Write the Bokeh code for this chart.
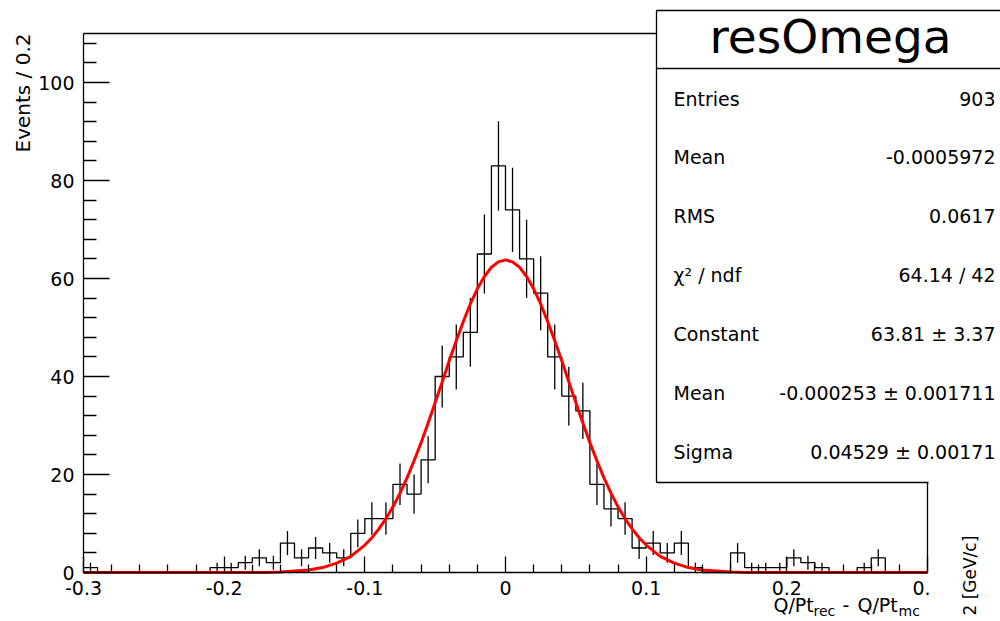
import numpy as np
from bokeh.plotting import figure
from bokeh.models import Range1d, FixedTicker, Label, LinearAxis
from bokeh.embed import file_html
from bokeh.resources import INLINE

# ---------------- data ----------------
bin_low = -0.30
bin_width = 0.01
counts = [1, 0, 0, 0, 0, 0, 0, 0, 0, 1,
          1, 2, 3, 2, 6, 3, 5, 4, 3, 8,
          11, 11, 18, 16, 23, 40, 44, 49, 65, 83,
          74, 64, 57, 44, 36, 33, 18, 13, 11, 5,
          6, 4, 6, 1, 0, 0, 4, 1, 1, 1,
          3, 2, 1, 0, 0, 1, 3, 0, 0, 0]

fit_x = [-0.30, -0.17, -0.16, -0.15, -0.14, -0.13, -0.12, -0.11, -0.10, -0.095,
         -0.09, -0.085, -0.08, -0.075, -0.07, -0.065, -0.06, -0.055, -0.05, -0.045,
         -0.04, -0.035, -0.03, -0.025, -0.02, -0.015, -0.01, -0.005, 0.0,
         0.005, 0.01, 0.015, 0.02, 0.025, 0.03, 0.035, 0.04, 0.045, 0.05,
         0.055, 0.06, 0.065, 0.07, 0.075, 0.08, 0.085, 0.09, 0.095, 0.10,
         0.11, 0.12, 0.13, 0.14, 0.15, 0.16, 0.17, 0.30]
fit_y = [0.0, 0.0, 0.1, 0.3, 0.5, 1.0, 1.9, 3.3, 5.6, 7.1,
         8.9, 11.0, 13.4, 16.2, 19.3, 22.8, 26.5, 30.5, 34.7, 38.9,
         43.2, 47.3, 51.2, 54.8, 57.9, 60.4, 62.3, 63.4, 63.8,
         63.4, 62.3, 60.4, 57.9, 54.8, 51.2, 47.3, 43.2, 38.9, 34.7,
         30.5, 26.5, 22.8, 19.3, 16.2, 13.4, 11.0, 8.9, 7.1, 5.6,
         3.3, 1.9, 1.0, 0.5, 0.3, 0.1, 0.0, 0.0]

x_ticks = [-0.3, -0.2, -0.1, 0.0, 0.1, 0.2, 0.3]
x_tick_labels = ["-0.3", "-0.2", "-0.1", "0", "0.1", "0.2", "0.\u00a0\u00a0"]
x_minor = [-0.28, -0.26, -0.24, -0.22, -0.18, -0.16, -0.14, -0.12, -0.08, -0.06,
           -0.04, -0.02, 0.02, 0.04, 0.06, 0.08, 0.12, 0.14, 0.16, 0.18,
           0.22, 0.24, 0.26, 0.28]
y_ticks = [0, 20, 40, 60, 80, 100]
y_minor = [4, 8, 12, 16, 24, 28, 32, 36, 44, 48, 52, 56, 64, 68, 72, 76,
           84, 88, 92, 96, 104, 108]

stat_names = ["Entries", "Mean", "RMS", "\u03c7\u00b2 / ndf", "Constant", "Mean", "Sigma"]
stat_values = ["903", "-0.0005972", "0.0617", "64.14 / 42", "63.81 \u00b1 3.37",
               "-0.000253 \u00b1 0.001711", "0.04529 \u00b1 0.00171"]
title_text = "resOmega"
y_title = "Events / 0.2"

# ---------------- layout constants ----------------
XMIN, XMAX, YMAX = -0.3, 0.3, 110.0
FL, FB = 83, 572           # ROOT frame left / bottom in canvas px
XS, YS = 1406.67, 4.9       # px per unit
W, H = 1000, 621
FONT = "DejaVu Sans"


def dx(px):
    return XMIN + (px - FL) / XS


def dy(py):
    return (FB - py) / YS


p = figure(width=W, height=H, output_backend="svg", toolbar_location=None,
           x_range=Range1d(dx(0), dx(W)), y_range=Range1d(dy(H), dy(0)),
           x_axis_location=None, y_axis_location=None,
           min_border_left=0, min_border_right=0, min_border_top=0,
           min_border_bottom=0, background_fill_color="white",
           border_fill_color="white", outline_line_color=None)
for g in p.grid:
    g.visible = False

# axes (library axes, pinned to the ROOT frame edges)
xa = LinearAxis(fixed_location=0, bounds=(XMIN, XMAX),
                ticker=FixedTicker(ticks=x_ticks, minor_ticks=x_minor))
xa.major_label_overrides = {t: l for t, l in zip(x_ticks, x_tick_labels)}
ya = LinearAxis(fixed_location=XMIN, bounds=(0, YMAX),
                ticker=FixedTicker(ticks=y_ticks, minor_ticks=y_minor))
for ax in (xa, ya):
    ax.axis_line_color = "black"
    ax.axis_line_width = 1.3
    ax.major_tick_line_color = "black"
    ax.minor_tick_line_color = "black"
    ax.major_tick_line_width = 1.3
    ax.minor_tick_line_width = 1.3
    ax.major_tick_out = 0
    ax.minor_tick_out = 0
    ax.major_label_text_font = FONT
    ax.major_label_text_font_size = "19px"
    ax.major_label_text_color = "black"
xa.major_tick_in = 16
xa.minor_tick_in = 8
xa.major_label_standoff = 4
ya.major_tick_in = 26
ya.minor_tick_in = 13
ya.major_label_standoff = 9

# frame top / right
p.segment(x0=[XMIN, XMAX], y0=[YMAX, 0], x1=[XMAX, XMAX], y1=[YMAX, YMAX],
          line_color="black", line_width=1.3)

# histogram
edges = bin_low + bin_width * np.arange(len(counts) + 1)
cnt = np.array(counts, dtype=float)
p.step(x=list(edges), y=list(cnt) + [cnt[-1]], mode="after",
       line_color="black", line_width=1.3)
centers = edges[:-1] + bin_width / 2
m = cnt > 0
err = np.sqrt(cnt[m])
p.segment(x0=centers[m], y0=cnt[m] - err, x1=centers[m], y1=cnt[m] + err,
          line_color="black", line_width=1.3)

# fit curve
p.line(fit_x, fit_y, line_color="#ff0000", line_width=3, line_join="round")

p.add_layout(xa, "below")
p.add_layout(ya, "left")

# stats box
p.quad(left=dx(656), right=dx(W + 10), top=dy(10), bottom=dy(482),
       fill_color="white", line_color=None)
p.segment(x0=[dx(656), dx(656), dx(656), dx(656)],
          y0=[dy(10), dy(10), dy(68), dy(482)],
          x1=[dx(W + 10), dx(656), dx(W + 10), dx(928)],
          y1=[dy(10), dy(482), dy(68), dy(482)],
          line_color="black", line_width=1.3)

p.add_layout(Label(x=dx(830), y=dy(36), text=title_text, text_font=FONT,
                   text_font_size="47px", text_align="center",
                   text_baseline="alphabetic", text_color="black"))
row_base = [98, 156, 215, 274, 333, 392, 451]
for name, val, yb in zip(stat_names, stat_values, row_base):
    p.add_layout(Label(x=dx(673), y=dy(yb), text=name, text_font=FONT,
                       text_font_size="19px", text_align="left",
                       text_baseline="alphabetic", text_color="black"))
    p.add_layout(Label(x=dx(995), y=dy(yb), text=val, text_font=FONT,
                       text_font_size="19px", text_align="right",
                       text_baseline="alphabetic", text_color="black"))

# axis titles
p.add_layout(Label(x=dx(22), y=dy(33), text=y_title, text_font=FONT,
                   text_font_size="20px", angle=90, angle_units="deg",
                   text_align="right", text_baseline="alphabetic",
                   text_color="black"))
xt_parts = [("Q/Pt", 773, 604, "19px"), ("rec", 813, 610, "14px"),
            ("-", 842, 604, "19px"), ("Q/Pt", 857, 604, "19px"),
            ("mc", 898, 610, "14px")]
for t, px, py, fs in xt_parts:
    p.add_layout(Label(x=dx(px), y=dy(py), text=t, text_font=FONT,
                       text_font_size=fs, text_align="left",
                       text_baseline="alphabetic", text_color="black"))

# fragment of neighbouring pad title
p.add_layout(Label(x=dx(969), y=dy(615), text="2 [GeV/c]", text_font=FONT,
                   text_font_size="17px", angle=90, angle_units="deg",
                   text_align="left", text_baseline="alphabetic",
                   text_color="black"))

open("out.html", "w").write(file_html(p, INLINE))
